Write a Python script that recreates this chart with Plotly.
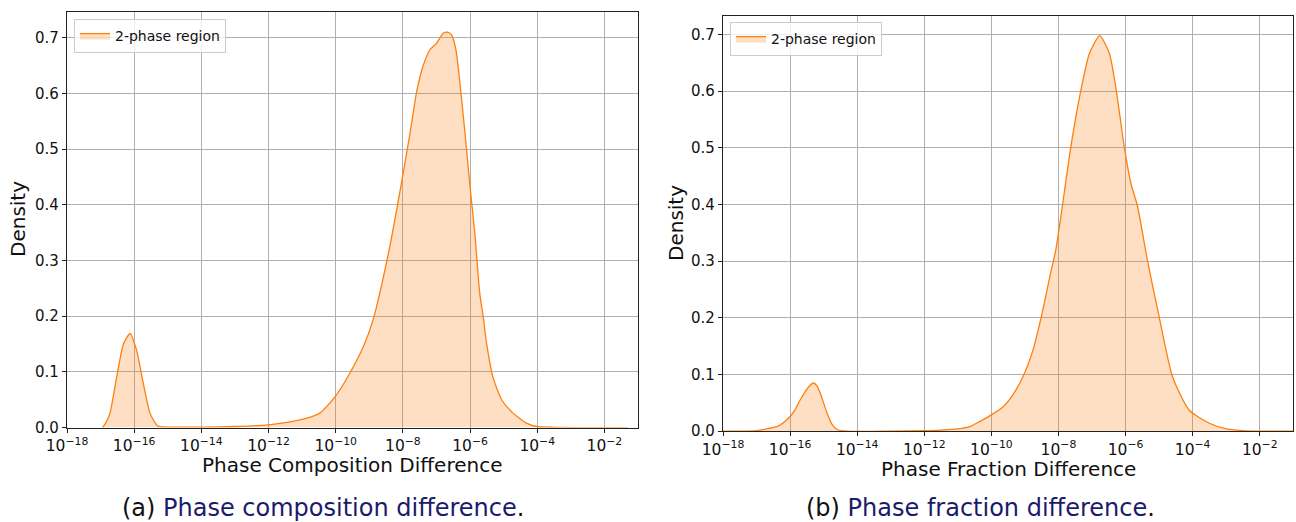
import plotly.graph_objects as go

# ---- data (log10 of difference, KDE density) ----
exp_a = [-16.95, -16.85, -16.72, -16.52, -16.32, -16.12, -15.93, -15.73, -15.53, -15.3,
         -15.0, -14.0, -13.0, -12.5, -12.0, -11.5, -11.07, -10.75, -10.47, -10.02,
         -9.58, -9.18, -8.89, -8.44, -7.99, -7.79, -7.6, -7.49, -7.39, -7.2,
         -7.0, -6.8, -6.68, -6.55, -6.42, -6.30, -6.15, -6.0, -5.86, -5.71,
         -5.61, -5.51, -5.32, -5.06, -4.72, -4.32, -4.02, -3.5, -2.0, -1.3]
dens_a = [0.0, 0.008, 0.026, 0.091, 0.150, 0.169, 0.139, 0.080, 0.026, 0.003,
          0.001, 0.001, 0.002, 0.003, 0.005, 0.009, 0.014, 0.019, 0.026, 0.055,
          0.0975, 0.145, 0.193, 0.31, 0.457, 0.528, 0.60, 0.63, 0.651, 0.678,
          0.69, 0.708, 0.71, 0.705, 0.678, 0.618, 0.528, 0.432, 0.35, 0.24,
          0.20, 0.152, 0.091, 0.05, 0.026, 0.008, 0.002, 0.0005, 0.0, 0.0]

exp_b = [-18.0, -17.5, -17.0, -16.7, -16.4, -16.2, -16.0, -15.85, -15.7, -15.45,
         -15.3, -15.2, -15.1, -14.9, -14.75, -14.6, -14.3, -13.0, -12.0, -11.5,
         -11.0, -10.64, -10.35, -10.05, -9.65, -9.35, -9.06, -8.76, -8.51, -8.26,
         -8.08, -7.93, -7.63, -7.33, -7.08, -6.77, -6.48, -6.28, -6.04, -5.84,
         -5.64, -5.35, -5.0, -4.6, -4.1, -3.5, -3.0, -2.5, -2.0, -1.0]
dens_b = [0.0, 0.0, 0.001, 0.004, 0.008, 0.015, 0.026, 0.038, 0.055, 0.078,
          0.085, 0.080, 0.067, 0.032, 0.012, 0.003, 0.0, 0.0, 0.001, 0.002,
          0.004, 0.008, 0.017, 0.027, 0.043, 0.065, 0.096, 0.143, 0.202, 0.272,
          0.32, 0.378, 0.502, 0.602, 0.666, 0.698, 0.666, 0.602, 0.502, 0.437,
          0.396, 0.302, 0.202, 0.096, 0.037, 0.014, 0.004, 0.001, 0.0, 0.0]

tick_exps = [-18, -16, -14, -12, -10, -8, -6, -4, -2]
tick_labels = [f"10<sup>\u2212{abs(e)}</sup>" for e in tick_exps]
y_ticks = [0.0, 0.1, 0.2, 0.3, 0.4, 0.5, 0.6, 0.7]
y_labels = [f"{v:.1f}" for v in y_ticks]

series_name = "2-phase region"
x_titles = ["Phase Composition Difference", "Phase Fraction Difference"]
captions = [("(a) ", "Phase composition difference"), ("(b) ", "Phase fraction difference")]

ORANGE = "#ff7f0e"
FILL = "rgba(255,127,14,0.25)"
FONT = "DejaVu Sans"
W, H = 1296, 522

fig = go.Figure()
fig.add_trace(go.Scatter(
    x=[10 ** e for e in exp_a], y=dens_a, mode="lines", fill="tozeroy",
    line=dict(color=ORANGE, width=1.3, shape="spline", smoothing=0.6),
    fillcolor=FILL, name=series_name, xaxis="x", yaxis="y", legend="legend"))
fig.add_trace(go.Scatter(
    x=[10 ** e for e in exp_b], y=dens_b, mode="lines", fill="tozeroy",
    line=dict(color=ORANGE, width=1.3, shape="spline", smoothing=0.6),
    fillcolor=FILL, name=series_name, xaxis="x2", yaxis="y2", legend="legend2"))

def xax(dom, anchor):
    return dict(type="log", range=[-18, -1], domain=dom, anchor=anchor,
                tickmode="array", tickvals=[10 ** e for e in tick_exps], ticktext=tick_labels,
                showgrid=True, gridcolor="#b0b0b0", gridwidth=1,
                showline=True, linecolor="#222", linewidth=1.2, mirror=True,
                ticks="outside", ticklen=4, tickcolor="#222",
                tickfont=dict(family=FONT, size=15.5, color="#111"),
                zeroline=False, automargin=False)

def yax(dom, anchor, top):
    return dict(range=[0, top], domain=dom, anchor=anchor,
                tickmode="array", tickvals=y_ticks, ticktext=y_labels,
                showgrid=True, gridcolor="#b0b0b0", gridwidth=1,
                showline=True, linecolor="#222", linewidth=1.2, mirror=True,
                ticks="outside", ticklen=4, tickcolor="#222",
                tickfont=dict(family=FONT, size=15, color="#111"),
                zeroline=False, automargin=False)

fig.update_layout(
    width=W, height=H, margin=dict(l=0, r=0, t=0, b=0),
    paper_bgcolor="white", plot_bgcolor="white",
    xaxis=xax([67 / W, 638 / W], "y"),
    yaxis=yax([1 - 427.6 / H, 1 - 12.3 / H], "x", 0.7457),
    xaxis2=xax([723 / W, 1293.3 / W], "y2"),
    yaxis2=yax([1 - 431.2 / H, 1 - 15.7 / H], "x2", 0.733),
    legend=dict(x=74 / W, y=1 - 19 / H, xanchor="left", yanchor="top",
                bgcolor="rgba(255,255,255,0.8)", bordercolor="#cccccc", borderwidth=1,
                font=dict(family=FONT, size=14, color="#111"), itemwidth=30),
    legend2=dict(x=730 / W, y=1 - 22 / H, xanchor="left", yanchor="top",
                 bgcolor="rgba(255,255,255,0.8)", bordercolor="#cccccc", borderwidth=1,
                 font=dict(family=FONT, size=14, color="#111"), itemwidth=30),
    showlegend=True,
)

ann = []
# y-axis titles
for xp, yp in [(18, 219), (676, 223)]:
    ann.append(dict(text="Density", x=xp / W, y=1 - yp / H, xref="paper", yref="paper",
                    textangle=-90, showarrow=False, xanchor="center", yanchor="middle",
                    font=dict(family=FONT, size=20, color="#111")))
# x-axis titles
for t, (xp, yp) in zip(x_titles, [(352, 465), (1008, 469)]):
    ann.append(dict(text=t, x=xp / W, y=1 - yp / H, xref="paper", yref="paper",
                    showarrow=False, xanchor="center", yanchor="middle",
                    font=dict(family=FONT, size=20, color="#111")))
# captions
for (lab, txt), (xp, yp) in zip(captions, [(323, 508), (980, 508)]):
    ann.append(dict(text=f"{lab}<span style='color:#1b1b6b'>{txt}</span>.",
                    x=xp / W, y=1 - yp / H, xref="paper", yref="paper",
                    showarrow=False, xanchor="center", yanchor="middle",
                    font=dict(family=FONT, size=24, color="#111")))
fig.update_layout(annotations=ann)

fig.write_html("out.html", config={"displayModeBar": False},
               post_script="document.body.style.margin='0';document.body.style.overflow='hidden';")
